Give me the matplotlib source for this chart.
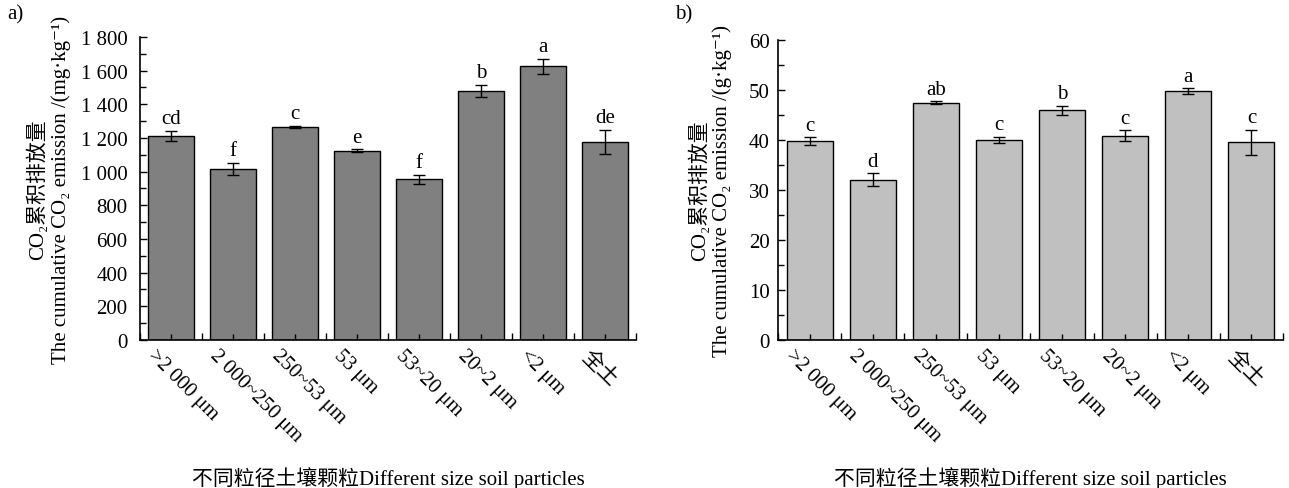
import numpy as np
import matplotlib.pyplot as plt
from matplotlib.ticker import MultipleLocator, FixedLocator

plt.rcParams['font.family'] = ['Liberation Serif', 'DejaVu Serif', 'Noto Sans CJK SC']

# 数据
categories = ['>2 000 μm', '2 000~250 μm', '250~53 μm', '53 μm', '53~20 μm',
              '20~2 μm', '<2 μm', '全土']

mg_values = [1213, 1016, 1268, 1124, 954, 1480, 1625, 1176]
mg_errors = [30, 38, 6, 10, 27, 37, 45, 72]
mg_letters = ['cd', 'f', 'c', 'e', 'f', 'b', 'a', 'de']
mg_yticks = [0, 200, 400, 600, 800, 1000, 1200, 1400, 1600, 1800]
mg_yticklabels = ['0', '200', '400', '600', '800', '1 000', '1 200', '1 400', '1 600', '1 800']

g_values = [39.7, 32.0, 47.4, 40.0, 45.9, 40.8, 49.7, 39.5]
g_errors = [0.8, 1.3, 0.3, 0.6, 0.9, 1.1, 0.6, 2.5]
g_letters = ['c', 'd', 'ab', 'c', 'b', 'c', 'a', 'c']
g_yticks = [0, 10, 20, 30, 40, 50, 60]
g_yticklabels = ['0', '10', '20', '30', '40', '50', '60']

xlabel = '不同粒径土壤颗粒Different size soil particles'

fig = plt.figure(figsize=(12.89, 4.89), dpi=100)
ax1 = fig.add_axes([0.1086, 0.3027, 0.3848, 0.6196])
ax2 = fig.add_axes([0.6036, 0.3027, 0.3917, 0.6135])

FS = 15


def draw(ax, values, errors, letters, yticks, yticklabels, color, ylabel, ymax, minor,
         off, ypad, ylab_x, xlab_y):
    x = np.arange(len(categories))
    ax.bar(x, values, width=0.73, color=color, edgecolor='black', linewidth=1.0,
           yerr=errors, capsize=4, error_kw=dict(elinewidth=1.0, capthick=1.0, ecolor='black'))
    for xi, v, e, t in zip(x, values, errors, letters):
        ax.text(xi, v + e + off, t, ha='center', va='bottom', fontsize=FS)
    ax.set_xlim(-0.5, len(categories) - 0.5)
    ax.set_ylim(0, ymax)
    ax.set_yticks(yticks)
    ax.set_yticklabels(yticklabels, fontsize=FS)
    ax.yaxis.set_minor_locator(MultipleLocator(minor))
    ax.xaxis.set_major_locator(FixedLocator(np.arange(len(categories) + 1) - 0.5))
    ax.xaxis.set_minor_locator(FixedLocator(x))
    ax.set_xticklabels([])
    for xi, c in zip(x, categories):
        ax.text(xi - 0.22, -0.02, c, transform=ax.get_xaxis_transform(), rotation=-45,
                ha='left', va='top', rotation_mode='anchor', fontsize=FS)
    ax.tick_params(axis='both', which='major', direction='in', length=5, width=1)
    ax.tick_params(axis='both', which='minor', direction='in', length=4, width=1)
    ax.tick_params(axis='y', which='major', pad=ypad)
    for s in ['top', 'right']:
        ax.spines[s].set_visible(False)
    for s in ['left', 'bottom']:
        ax.spines[s].set_linewidth(1.2)
    ax.set_ylabel(ylabel, fontsize=FS, linespacing=1.15)
    ax.yaxis.set_label_coords(ylab_x, 0.5)
    ax.set_xlabel(xlabel, fontsize=FS, va='center')
    ax.xaxis.set_label_coords(0.5, xlab_y)


draw(ax1, mg_values, mg_errors, mg_letters, mg_yticks, mg_yticklabels, '#808080',
     'CO₂累积排放量\nThe cumulative CO₂ emission /(mg·kg⁻¹)', 1800, 100, 15,
     9, -0.14, -0.455)
draw(ax2, g_values, g_errors, g_letters, g_yticks, g_yticklabels, '#c0c0c0',
     'CO₂累积排放量\nThe cumulative CO₂ emission /(g·kg⁻¹)', 60, 5, 0.5,
     6, -0.091, -0.46)

fig.text(0.006, 0.97, 'a)', fontsize=FS, va='center')
fig.text(0.524, 0.97, 'b)', fontsize=FS, va='center')

fig.savefig('out.png', dpi=100)
